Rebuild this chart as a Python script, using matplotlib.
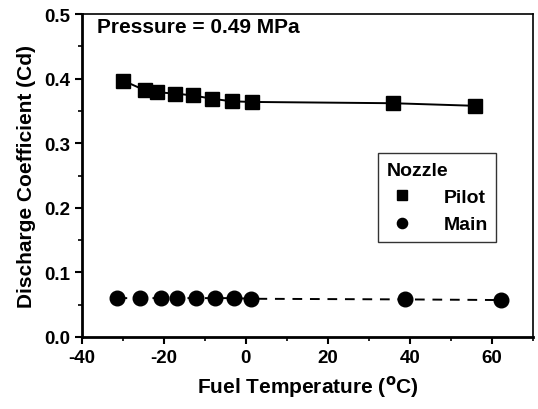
import numpy as np
import matplotlib.pyplot as plt
from matplotlib.ticker import MultipleLocator

plt.rcParams['font.family'] = ['Liberation Sans', 'DejaVu Sans']
plt.rcParams['font.weight'] = 'bold'
plt.rcParams['axes.unicode_minus'] = False

pilot_temp = [-29.9, -24.6, -21.7, -17.3, -12.8, -8.3, -3.5, 1.4, 35.9, 55.8]
pilot_cd = [0.397, 0.382, 0.379, 0.377, 0.374, 0.369, 0.365, 0.364, 0.362, 0.358]

main_temp = [-31.3, -25.8, -20.8, -16.7, -12.1, -7.5, -2.9, 1.3, 38.8, 62.1]
main_cd = [0.060, 0.060, 0.060, 0.060, 0.060, 0.060, 0.060, 0.059, 0.058, 0.057]

fig = plt.figure(figsize=(5.38, 4.10), dpi=100)
ax = fig.add_axes([0.152, 0.176, 0.839, 0.787])

ax.plot(pilot_temp, pilot_cd, '-', color='k', lw=1.4)
ax.plot(pilot_temp, pilot_cd, 's', color='k', markersize=9.5, label='Pilot')
ax.plot(main_temp, main_cd, '--', color='k', lw=1.4, dashes=(5, 4))
ax.plot(main_temp, main_cd, 'o', color='k', markersize=10.5, label='Main')

ax.set_xlim(-40, 70)
ax.set_ylim(0.0, 0.5)
ax.xaxis.set_major_locator(MultipleLocator(20))
ax.xaxis.set_minor_locator(MultipleLocator(10))
ax.yaxis.set_major_locator(MultipleLocator(0.1))
ax.yaxis.set_minor_locator(MultipleLocator(0.05))
ax.yaxis.set_major_formatter(plt.FormatStrFormatter('%.1f'))
ax.tick_params(which='major', direction='out', length=5, width=1.5, labelsize=13.5)
ax.tick_params(which='minor', direction='out', length=3, width=1.2)
for s in ax.spines.values():
    s.set_linewidth(1.2)
ax.spines['left'].set_linewidth(2)
ax.spines['bottom'].set_linewidth(2)

ax.set_xlabel('Fuel Temperature ($^{\\mathbf{o}}$C)', fontsize=15, fontweight='bold', labelpad=5)
ax.set_ylabel('Discharge Coefficient (Cd)', fontsize=15, fontweight='bold', labelpad=6)

ax.text(0.033, 0.99, 'Pressure = 0.49 MPa', transform=ax.transAxes, fontsize=15,
        fontweight='bold', va='top', ha='left')

leg = ax.legend(title='Nozzle', loc='upper left', bbox_to_anchor=(0.635, 0.60),
                fontsize=14, title_fontproperties={'weight': 'bold', 'size': 14},
                frameon=True, fancybox=False, edgecolor='k', markerscale=0.7,
                handlelength=1.6, handletextpad=1.3, borderpad=0.45, labelspacing=0.5)
leg._legend_box.align = 'left'
leg.get_frame().set_linewidth(1.0)

fig.savefig('out.png', dpi=100)
